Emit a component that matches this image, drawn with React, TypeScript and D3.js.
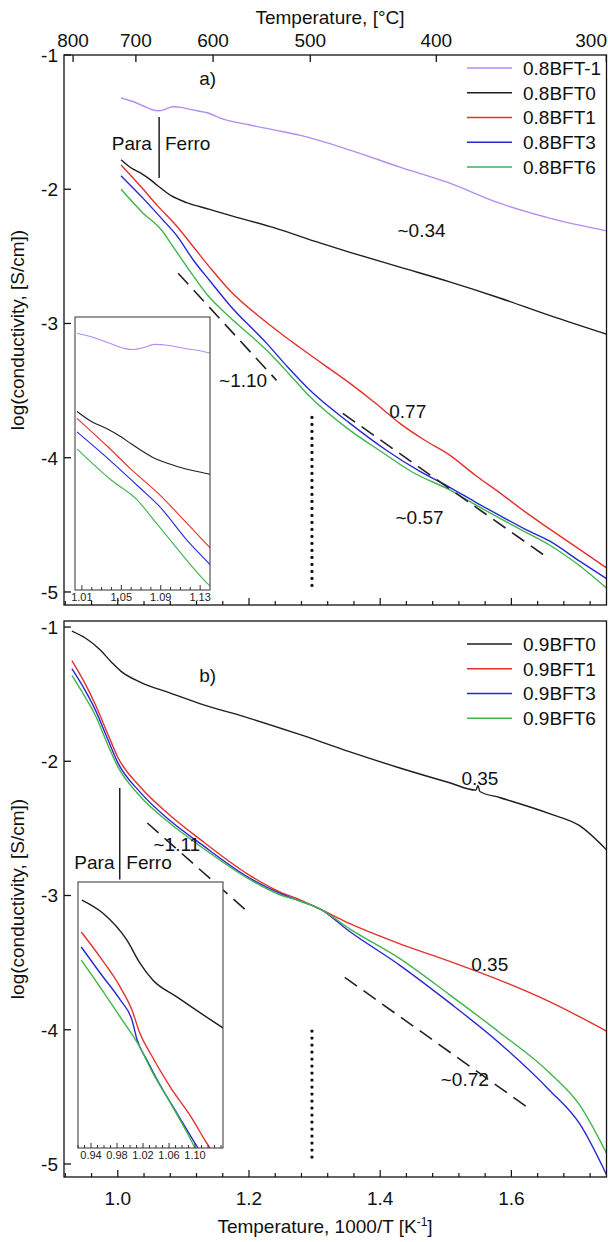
import React from "react";
import * as d3 from "d3";

const W = 608;
const H = 1242;
const FONT = "'Liberation Sans', Arial, Helvetica, sans-serif";

type P = [number, number];

// ---------- panel a) data: x = 1000/T [1/K], y = log(conductivity) ----------
const a_BFTm1: P[] = [
  [1.005, -1.32], [1.025, -1.35], [1.039, -1.38], [1.054, -1.41], [1.063, -1.415],
  [1.072, -1.405], [1.084, -1.385], [1.097, -1.39], [1.11, -1.405], [1.14, -1.436],
  [1.156, -1.47], [1.2, -1.52], [1.24, -1.56], [1.277, -1.597], [1.354, -1.708],
  [1.43, -1.835], [1.506, -1.955], [1.582, -2.104], [1.658, -2.215], [1.745, -2.31],
];
const a_BFT0: P[] = [
  [1.005, -1.78], [1.02, -1.84], [1.035, -1.88], [1.05, -1.93], [1.06, -1.97],
  [1.082, -2.05], [1.105, -2.1], [1.14, -2.15], [1.175, -2.2], [1.24, -2.29],
  [1.308, -2.4], [1.354, -2.47], [1.43, -2.58], [1.506, -2.69], [1.582, -2.81],
  [1.658, -2.94], [1.745, -3.08],
];
const a_BFT1: P[] = [
  [1.005, -1.82], [1.035, -1.98], [1.06, -2.12], [1.089, -2.27], [1.117, -2.44],
  [1.14, -2.58], [1.17, -2.75], [1.217, -2.954], [1.25, -3.08], [1.277, -3.177],
  [1.315, -3.31], [1.354, -3.446], [1.392, -3.59], [1.43, -3.744], [1.468, -3.87],
  [1.506, -3.98], [1.545, -4.13], [1.582, -4.26], [1.62, -4.4], [1.658, -4.53],
  [1.7, -4.67], [1.745, -4.82],
];
const a_BFT3: P[] = [
  [1.005, -1.9], [1.039, -2.07], [1.069, -2.23], [1.089, -2.34], [1.117, -2.54],
  [1.14, -2.68], [1.17, -2.86], [1.227, -3.148], [1.26, -3.33], [1.293, -3.498],
  [1.354, -3.744], [1.41, -3.946], [1.46, -4.1], [1.506, -4.22], [1.545, -4.33],
  [1.582, -4.43], [1.62, -4.53], [1.658, -4.62], [1.704, -4.77], [1.745, -4.9],
];
const a_BFT6: P[] = [
  [1.005, -2.0], [1.039, -2.18], [1.066, -2.3], [1.086, -2.44], [1.11, -2.61],
  [1.137, -2.79], [1.17, -2.95], [1.227, -3.2], [1.26, -3.37], [1.288, -3.521],
  [1.354, -3.796], [1.399, -3.946], [1.45, -4.11], [1.506, -4.24], [1.545, -4.35],
  [1.582, -4.45], [1.62, -4.55], [1.658, -4.65], [1.7, -4.79], [1.745, -4.97],
];

// ---------- panel b) data ----------
const b_BFT0: P[] = [
  [0.93, -1.03], [0.95, -1.08], [0.973, -1.17], [0.99, -1.26], [1.005, -1.33],
  [1.034, -1.41], [1.079, -1.49], [1.125, -1.57], [1.201, -1.68], [1.277, -1.8],
  [1.354, -1.93], [1.43, -2.05], [1.506, -2.16], [1.546, -2.215], [1.549, -2.18],
  [1.552, -2.225], [1.582, -2.27], [1.658, -2.39], [1.704, -2.48], [1.745, -2.66],
];
const b_BFT1: P[] = [
  [0.93, -1.25], [0.95, -1.42], [0.965, -1.57], [0.985, -1.8], [1.0, -1.97],
  [1.034, -2.19], [1.079, -2.4], [1.125, -2.58], [1.201, -2.85], [1.25, -2.98],
  [1.277, -3.03], [1.308, -3.1], [1.354, -3.21], [1.43, -3.36], [1.506, -3.49],
  [1.582, -3.63], [1.658, -3.79], [1.745, -4.01],
];
const b_BFT3: P[] = [
  [0.93, -1.31], [0.95, -1.47], [0.965, -1.61], [0.985, -1.84], [1.0, -2.01],
  [1.034, -2.23], [1.079, -2.44], [1.125, -2.61], [1.201, -2.87], [1.25, -2.99],
  [1.277, -3.04], [1.308, -3.1], [1.354, -3.27], [1.43, -3.52], [1.506, -3.8],
  [1.582, -4.1], [1.658, -4.45], [1.704, -4.7], [1.745, -5.08],
];
const b_BFT6: P[] = [
  [0.93, -1.36], [0.95, -1.52], [0.965, -1.65], [0.985, -1.88], [1.0, -2.04],
  [1.034, -2.26], [1.079, -2.46], [1.125, -2.63], [1.201, -2.88], [1.25, -3.0],
  [1.277, -3.04], [1.308, -3.1], [1.354, -3.25], [1.43, -3.47], [1.506, -3.74],
  [1.582, -4.02], [1.658, -4.32], [1.704, -4.56], [1.745, -4.92],
];

// ---------- inset of panel b) ----------
const ib_BFT0: P[] = [
  [0.926, -0.995], [0.958, -1.063], [0.995, -1.205], [1.015, -1.326], [1.035, -1.416],
  [1.072, -1.505], [1.108, -1.589], [1.143, -1.668],
];
const ib_BFT1: P[] = [
  [0.925, -1.163], [0.954, -1.295], [0.985, -1.453], [1.003, -1.574], [1.015, -1.695],
  [1.031, -1.8], [1.062, -1.979], [1.097, -2.153], [1.115, -2.258], [1.125, -2.31],
];
const ib_BFT3: P[] = [
  [0.925, -1.242], [0.954, -1.379], [0.985, -1.521], [1.003, -1.626], [1.011, -1.732],
  [1.026, -1.837], [1.042, -1.942], [1.072, -2.116], [1.097, -2.258], [1.11, -2.33],
];
const ib_BFT6: P[] = [
  [0.925, -1.311], [0.954, -1.453], [0.985, -1.611], [1.015, -1.768], [1.035, -1.905],
  [1.062, -2.063], [1.088, -2.221], [1.1, -2.3],
];

// ---------- guide lines ----------
const a_dash1: P[] = [[1.092, -2.626], [1.242, -3.424]];
const a_dash2: P[] = [[1.343, -3.67], [1.651, -4.73]];
const a_dots: P[] = [[1.296, -3.7], [1.296, -4.99]];
const a_paraLine: P[] = [[1.063, -1.462], [1.063, -1.916]];
const b_dash1: P[] = [[1.045, -2.46], [1.2, -3.13]];
const b_dash2: P[] = [[1.346, -3.61], [1.628, -4.59]];
const b_dots: P[] = [[1.296, -4.01], [1.296, -4.99]];
const b_paraLine: P[] = [[1.003, -2.2], [1.003, -2.88]];

// ---------- ticks & labels ----------
const celsiusTicks = [800, 700, 600, 500, 400, 300];
const invTTicks = [1.0, 1.2, 1.4, 1.6];
const logTicks = [-1, -2, -3, -4, -5];
const insetATicks = [1.01, 1.05, 1.09, 1.13];
const insetBTicks = [0.94, 0.98, 1.02, 1.06, 1.1];

const legendA = ["0.8BFT-1", "0.8BFT0", "0.8BFT1", "0.8BFT3", "0.8BFT6"];
const legendB = ["0.9BFT0", "0.9BFT1", "0.9BFT3", "0.9BFT6"];

const C = {
  purple: "#b48cf2",
  black: "#1e1e1e",
  red: "#e5312b",
  blue: "#2727d6",
  green: "#3fb54a",
};
const colorsA = [C.purple, C.black, C.red, C.blue, C.green];
const colorsB = [C.black, C.red, C.blue, C.green];

const annotA = [
  { t: "a)", v: 1.137, y: -1.171, a: "middle" },
  { t: "Para", v: 1.052, y: -1.655, a: "end" },
  { t: "Ferro", v: 1.072, y: -1.655, a: "start" },
  { t: "~0.34", v: 1.463, y: -2.304, a: "middle" },
  { t: "~1.10", v: 1.191, y: -3.421, a: "middle" },
  { t: "0.77", v: 1.442, y: -3.652, a: "middle" },
  { t: "~0.57", v: 1.46, y: -4.441, a: "middle" },
];
const annotB = [
  { t: "b)", v: 1.137, y: -1.362, a: "middle" },
  { t: "Para", v: 0.995, y: -2.75, a: "end" },
  { t: "Ferro", v: 1.013, y: -2.75, a: "start" },
  { t: "~1.11", v: 1.09, y: -2.62, a: "middle" },
  { t: "0.35", v: 1.552, y: -2.123, a: "middle" },
  { t: "0.35", v: 1.567, y: -3.514, a: "middle" },
  { t: "~0.72", v: 1.529, y: -4.37, a: "middle" },
];

// ---------- layout ----------
const X0 = 64;
const X1 = 606.5;
const TOP = { y0: 55, y1: 605, dom: [-5.097, -1] };
const BOT = { y0: 621, y1: 1177, dom: [-5.097, -0.955] };
const INSET_A = { x0: 75, x1: 210, y0: 317, y1: 590, xd: [1.003, 1.14], yd: [-2.83, -1.224] };
const INSET_B = { x0: 78, x1: 223, y0: 882, y1: 1148, xd: [0.92, 1.143], yd: [-2.3, -0.9] };

const x = d3.scaleLinear().domain([0.918, 1.745]).range([X0, X1]);
const yA = d3.scaleLinear().domain(TOP.dom).range([TOP.y1, TOP.y0]);
const yB = d3.scaleLinear().domain(BOT.dom).range([BOT.y1, BOT.y0]);

function mkLine(xs: d3.ScaleLinear<number, number>, ys: d3.ScaleLinear<number, number>, smooth = false) {
  const l = d3
    .line<P>()
    .x((d) => xs(d[0]))
    .y((d) => ys(d[1]));
  return smooth ? l.curve(d3.curveMonotoneX) : l;
}

const minorTicks = d3.range(0, 22).map((i) => +(0.92 + i * 0.04).toFixed(2)).filter((v) => v <= 1.745);

function Panel({
  y,
  pan,
  series,
  colors,
  legend,
  legendTop,
  dash1,
  dash2,
  dots,
  paraLine,
  annot,
  clipId,
}: any) {
  const line = mkLine(x, y);
  const sline = mkLine(x, y, true);
  return (
    <g>
      <defs>
        <clipPath id={clipId}>
          <rect x={X0} y={pan.y0} width={X1 - X0} height={pan.y1 - pan.y0} />
        </clipPath>
      </defs>
      <g clipPath={`url(#${clipId})`}>
        {series.map((s: P[], i: number) => (
          <path key={i} d={sline(s) || ""} fill="none" stroke={colors[i]} strokeWidth={1.4} strokeLinejoin="round" />
        ))}
      </g>
      {[dash1, dash2].map((d: P[], i: number) => (
        <path key={"d" + i} d={line(d) || ""} stroke="#222" strokeWidth={1.6} strokeDasharray="15,8" fill="none" />
      ))}
      <path d={line(dots) || ""} stroke="#111" strokeWidth={3.3} strokeDasharray="0,7" strokeLinecap="round" fill="none" />
      <path d={line(paraLine) || ""} stroke="#111" strokeWidth={1.4} fill="none" />
      {annot.map((a: any, i: number) => (
        <text key={"t" + i} x={x(a.v)} y={y(a.y)} dy="0.36em" textAnchor={a.a} fontSize={19} fill="#111">
          {a.t}
        </text>
      ))}
      {legend.map((name: string, i: number) => {
        const cy = legendTop + i * 24.75;
        return (
          <g key={"l" + i}>
            <line x1={467} x2={512} y1={cy} y2={cy} stroke={colors[i]} strokeWidth={1.6} />
            <text x={523} y={cy} dy="0.36em" fontSize={19} fill="#111">
              {name}
            </text>
          </g>
        );
      })}
      <rect x={X0} y={pan.y0} width={X1 - X0} height={pan.y1 - pan.y0} fill="none" stroke="#111" strokeWidth={1.3} />
      {logTicks.map((t) => (
        <g key={"y" + t}>
          <line x1={X0} x2={X0 + 7} y1={y(t)} y2={y(t)} stroke="#111" strokeWidth={1.3} />
          <text x={X0 - 6} y={y(t)} dy="0.36em" textAnchor="end" fontSize={19} fill="#111">
            {"-" + Math.abs(t)}
          </text>
        </g>
      ))}
      {minorTicks.map((t) => {
        const major = invTTicks.some((m) => Math.abs(m - t) < 1e-6);
        return (
          <line key={"m" + t} x1={x(t)} x2={x(t)} y1={pan.y1} y2={pan.y1 - (major ? 7 : 4)} stroke="#111" strokeWidth={1.2} />
        );
      })}
      <text
        transform={`translate(24,${(pan.y0 + pan.y1) / 2}) rotate(-90)`}
        textAnchor="middle"
        fontSize={19}
        fill="#111"
      >
        log(conductivity, [S/cm])
      </text>
    </g>
  );
}

function Inset({ box, series, colors, ticks, clipId, sw }: any) {
  const xs = d3.scaleLinear().domain(box.xd).range([box.x0, box.x1]);
  const ys = d3.scaleLinear().domain(box.yd).range([box.y1, box.y0]);
  const line = mkLine(xs, ys, true);
  const minor = d3
    .range(Math.ceil(box.xd[0] * 100), Math.floor(box.xd[1] * 100) + 1)
    .map((k) => k / 100);
  return (
    <g>
      <defs>
        <clipPath id={clipId}>
          <rect x={box.x0} y={box.y0} width={box.x1 - box.x0} height={box.y1 - box.y0} />
        </clipPath>
      </defs>
      <rect x={box.x0} y={box.y0} width={box.x1 - box.x0} height={box.y1 - box.y0} fill="#fff" />
      <g clipPath={`url(#${clipId})`}>
        {series.map((s: P[], i: number) => (
          <path key={i} d={line(s) || ""} fill="none" stroke={colors[i]} strokeWidth={sw} strokeLinejoin="round" />
        ))}
      </g>
      <rect x={box.x0} y={box.y0} width={box.x1 - box.x0} height={box.y1 - box.y0} fill="none" stroke="#444" strokeWidth={1.1} />
      {minor.map((t: number) => {
        const major = ticks.some((m: number) => Math.abs(m - t) < 1e-6);
        return (
          <line key={"t" + t} x1={xs(t)} x2={xs(t)} y1={box.y1} y2={box.y1 - (major ? 5 : 3)} stroke="#333" strokeWidth={1} />
        );
      })}
      {ticks.map((t: number) => (
        <text key={"l" + t} x={xs(t)} y={box.y1 + 11} textAnchor="middle" fontSize={11} fill="#222">
          {t.toFixed(2)}
        </text>
      ))}
    </g>
  );
}

export default function App() {
  const tempTickX = (c: number) => x(1000 / (c + 273.15));
  return (
    <svg
      width={W}
      height={H}
      viewBox={`0 0 ${W} ${H}`}
      style={{ position: "absolute", left: 0, top: 0, background: "#fff" }}
      fontFamily={FONT}
    >
      <rect x={0} y={0} width={W} height={H} fill="#fff" />
      <text x={330} y={24} textAnchor="middle" fontSize={19} fill="#111">
        Temperature, [°C]
      </text>
      {celsiusTicks.map((c) => (
        <g key={"c" + c}>
          <line x1={tempTickX(c)} x2={tempTickX(c)} y1={TOP.y0} y2={TOP.y0 + 7} stroke="#111" strokeWidth={1.3} />
          <text
            x={c === 300 ? 607 : tempTickX(c)}
            y={47}
            textAnchor={c === 300 ? "end" : "middle"}
            fontSize={19}
            fill="#111"
          >
            {c}
          </text>
        </g>
      ))}

      <Panel
        y={yA}
        pan={TOP}
        series={[a_BFTm1, a_BFT0, a_BFT1, a_BFT3, a_BFT6]}
        colors={colorsA}
        legend={legendA}
        legendTop={68}
        dash1={a_dash1}
        dash2={a_dash2}
        dots={a_dots}
        paraLine={a_paraLine}
        annot={annotA}
        clipId="clipTop"
      />
      <Inset
        box={INSET_A}
        series={[a_BFTm1, a_BFT0, a_BFT1, a_BFT3, a_BFT6]}
        colors={colorsA}
        ticks={insetATicks}
        clipId="clipInsA"
        sw={1.1}
      />

      <Panel
        y={yB}
        pan={BOT}
        series={[b_BFT0, b_BFT1, b_BFT3, b_BFT6]}
        colors={colorsB}
        legend={legendB}
        legendTop={644}
        dash1={b_dash1}
        dash2={b_dash2}
        dots={b_dots}
        paraLine={b_paraLine}
        annot={annotB}
        clipId="clipBot"
      />
      <Inset
        box={INSET_B}
        series={[ib_BFT0, ib_BFT1, ib_BFT3, ib_BFT6]}
        colors={colorsB}
        ticks={insetBTicks}
        clipId="clipInsB"
        sw={1.4}
      />

      {invTTicks.map((t) => (
        <text key={"x" + t} x={x(t)} y={1205} textAnchor="middle" fontSize={19} fill="#111">
          {t.toFixed(1)}
        </text>
      ))}
      <text x={325} y={1233} textAnchor="middle" fontSize={19} fill="#111">
        Temperature, 1000/T [K
        <tspan dy={-7} fontSize={12}>
          -1
        </tspan>
        <tspan dy={7}>]</tspan>
      </text>
    </svg>
  );
}
